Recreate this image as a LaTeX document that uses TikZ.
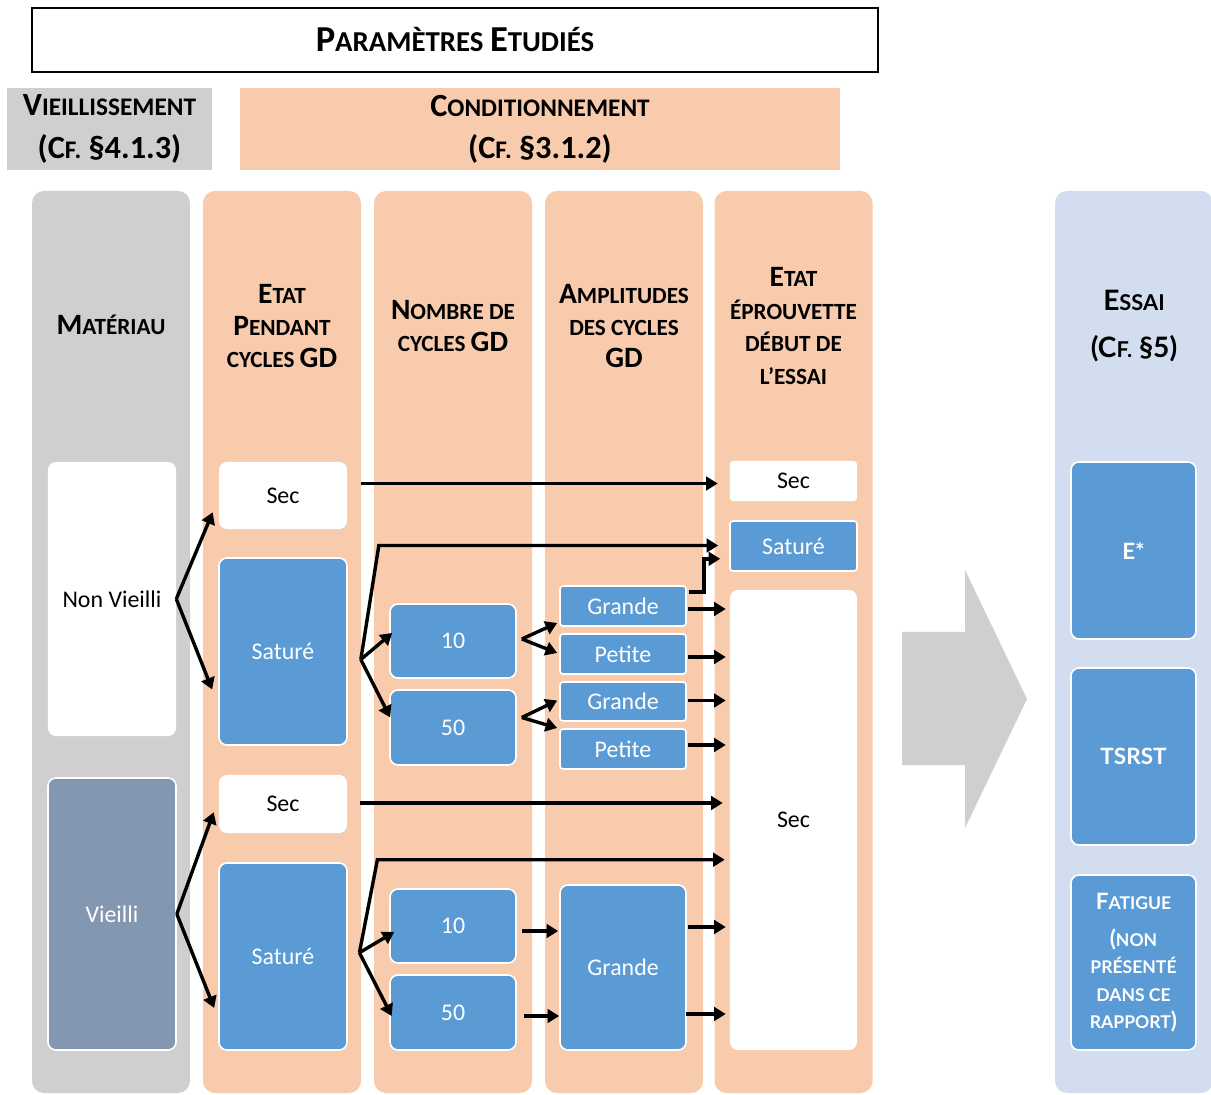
\documentclass[tikz,border=0pt]{standalone}
\usepackage{fontspec}
\setmainfont{Carlito}
\newfontfamily\gillfont{Lato}
\usetikzlibrary{arrows.meta,calc}

\definecolor{peche}{RGB}{248,203,173}
\definecolor{grisclair}{RGB}{208,206,206}
\definecolor{bleu}{RGB}{91,155,213}
\definecolor{ardoise}{RGB}{132,151,176}
\definecolor{bleupale}{RGB}{210,222,239}

% fausses petites capitales : initiale grande, reste en capitales reduites
\newcommand\petcap[2]{{\fontsize{21}{23}\selectfont #1}{\fontsize{16.5}{23}\selectfont #2}}
\newcommand\grandcap[2]{{\fontsize{23}{30}\selectfont #1}{\fontsize{18}{30}\selectfont #2}}
\newcommand\essaicap[2]{{\fontsize{20}{33}\selectfont #1}{\fontsize{15.5}{33}\selectfont #2}}

\tikzset{
  boiteb/.style={draw=white, line width=0.04cm, fill=bleu, text=white, rounded corners=0.2cm,
    inner sep=0pt, font=\fontsize{17}{20}\selectfont},
  boitew/.style={fill=white, rounded corners=0.2cm, inner sep=0pt, font=\fontsize{17}{20}\selectfont},
  entete/.style={align=center, font=\bfseries\fontsize{16.5}{23}\selectfont},
  fleche/.style={-{Triangle[length=0.29cm,width=0.34cm]}, line width=0.085cm}
}

\begin{document}
\begin{tikzpicture}[x=0.025cm,y=-0.025cm]
\useasboundingbox (0,0) rectangle (1211,1095);

%%%%% bandeaux du haut %%%%%
\node[draw=black, line width=0.04cm, minimum width=21.15cm, minimum height=1.6cm,
  font=\bfseries] (titre) at (455,40)
  {{\fontsize{26}{30}\selectfont P}{\fontsize{20.5}{30}\selectfont ARAMÈTRES }{\fontsize{26}{30}\selectfont E}{\fontsize{20.5}{30}\selectfont TUDIÉS}};

\node[fill=grisclair, minimum width=5.125cm, minimum height=2.05cm, align=center,
  font=\bfseries\fontsize{23}{30}\selectfont] (vieil) at (109.5,129)
  {\grandcap{V}{IEILLISSEMENT}\\(\grandcap{C}{F.} §4.1.3)};
\node[fill=peche, minimum width=15cm, minimum height=2.05cm, align=center,
  font=\bfseries\fontsize{23}{30}\selectfont] (condi) at (540,129)
  {\grandcap{C}{ONDITIONNEMENT}\\(\grandcap{C}{F.} §3.1.2)};

%%%%% colonnes %%%%%
\foreach \cx/\coul in {111/grisclair,282/peche,453/peche,624/peche,793.5/peche,1134/bleupale}
  \fill[\coul, rounded corners=0.3cm] (\cx-79,191) rectangle (\cx+79,1093);

\node[entete] (hmat) at (111,325) {\petcap{M}{ATÉRIAU}};
\node[entete] (hetat) at (282,326) {\petcap{E}{TAT}\\\petcap{P}{ENDANT}\\CYCLES {\fontsize{21}{23}\selectfont GD}};
\node[entete] (hnomb) at (453,326) {\petcap{N}{OMBRE DE}\\CYCLES {\fontsize{21}{23}\selectfont GD}};
\node[entete] (hampl) at (624,326) {\petcap{A}{MPLITUDES}\\DES CYCLES\\{\fontsize{21}{23}\selectfont GD}};
\node[entete] (hdebut) at (793.5,326) {\petcap{E}{TAT}\\ÉPROUVETTE\\DÉBUT DE\\L’ESSAI};
\node[align=center, font=\gillfont\bfseries\fontsize{20}{33}\selectfont] (hessai) at (1134,326)
  {\essaicap{E}{SSAI}\\(\essaicap{C}{F.} §5)};

%%%%% materiau %%%%%
\node[boitew, minimum width=3.2cm, minimum height=6.85cm] (nonvieilli) at (112,599) {Non Vieilli};
\node[boiteb, fill=ardoise, minimum width=3.2cm, minimum height=6.8cm] (vieilli) at (112,914) {Vieilli};

%%%%% etat pendant cycles %%%%%
\node[boitew, minimum width=3.2cm, minimum height=1.675cm] (secA) at (283,495.5) {Sec};
\node[boiteb, minimum width=3.2cm, minimum height=4.675cm] (satA) at (283,651.5) {Saturé};
\node[boitew, minimum width=3.2cm, minimum height=1.45cm] (secB) at (283,804) {Sec};
\node[boiteb, minimum width=3.2cm, minimum height=4.675cm] (satB) at (283,956.5) {Saturé};

%%%%% nombre de cycles %%%%%
\node[boiteb, minimum width=3.15cm, minimum height=1.85cm] (dixA) at (453,641) {10};
\node[boiteb, minimum width=3.15cm, minimum height=1.875cm] (cinqA) at (453,727.5) {50};
\node[boiteb, minimum width=3.15cm, minimum height=1.85cm] (dixB) at (453,926) {10};
\node[boiteb, minimum width=3.15cm, minimum height=1.875cm] (cinqB) at (453,1012.5) {50};

%%%%% amplitudes %%%%%
\node[boiteb, rounded corners=0.08cm, minimum width=3.15cm, minimum height=1cm] (grA) at (623,606) {Grande};
\node[boiteb, rounded corners=0.08cm, minimum width=3.15cm, minimum height=1cm] (peA) at (623,654) {Petite};
\node[boiteb, rounded corners=0.08cm, minimum width=3.15cm, minimum height=0.975cm] (grB) at (623,701.5) {Grande};
\node[boiteb, rounded corners=0.08cm, minimum width=3.15cm, minimum height=1cm] (peB) at (623,749) {Petite};
\node[boiteb, minimum width=3.15cm, minimum height=4.125cm] (grC) at (623,967.5) {Grande};

%%%%% etat debut essai %%%%%
\node[boitew, rounded corners=0.08cm, minimum width=3.175cm, minimum height=1cm] (secE) at (793.5,481) {Sec};
\node[boiteb, rounded corners=0.08cm, minimum width=3.175cm, minimum height=1.25cm] (satE) at (793.5,546) {Saturé};
\node[boitew, minimum width=3.175cm, minimum height=11.5cm] (secF) at (793.5,820) {Sec};

%%%%% fleche grise %%%%%
\fill[grisclair] (902,632) -- (965,632) -- (965,570) -- (1027,699) -- (965,828) -- (965,765) -- (902,765) -- cycle;

%%%%% essais %%%%%
\node[boiteb, minimum width=3.125cm, minimum height=4.425cm, font=\gillfont\bfseries\fontsize{16}{20}\selectfont] (estar) at (1133.5,550.5) {E*};
\node[boiteb, minimum width=3.125cm, minimum height=4.425cm, font=\gillfont\bfseries\fontsize{16}{20}\selectfont] (tsrst) at (1133.5,756.5) {TSRST};
\node[boiteb, minimum width=3.125cm, minimum height=4.375cm, align=center,
  font=\gillfont\bfseries\fontsize{12.5}{19.5}\selectfont] (fatigue) at (1133.5,962.5)
  {{\fontsize{16}{19.5}\selectfont F}ATIGUE\\[7pt]{\fontsize{16}{19.5}\selectfont (}NON\\PRÉSENTÉ\\DANS CE\\RAPPORT{\fontsize{16}{19.5}\selectfont )}};

%%%%% fleches : non vieilli %%%%%
\draw[fleche] (nonvieilli.east) -- ($(secA.south west)+(-6,-17)$);
\draw[fleche] (nonvieilli.east) -- ($(satA.west)+(-6,38)$);
\draw[fleche, shorten >=0.3cm] ($(secA.east)+(14,-12)$) coordinate (d) -- (d -| secE.west);

\coordinate (jA) at ($(satA.east)+(13,8)$);
\draw[fleche, shorten >=0.275cm] (jA) -- ++(18,-114) coordinate (d) -- (d -| satE.west);
\draw[fleche] (jA) -- ($(dixA.west)+(3,-8)$);
\draw[fleche] (jA) -- ($(cinqA.west)+(1,-10)$);

\draw[fleche] ($(dixA.east)+(5,-2)$) -- ($(grA.west)+(-2,17)$);
\draw[fleche] ($(dixA.east)+(5,-2)$) -- ($(peA.west)+(-2,-1)$);
\draw[fleche] ($(cinqA.east)+(5,-10)$) -- ($(grB.west)+(-2,-1)$);
\draw[fleche] ($(cinqA.east)+(5,-10)$) -- ($(peB.west)+(-2,-21)$);

\draw[fleche] ($(grA.north east)+(2,7)$) -| ($(satE.south west)+(-25,-13)$) -- ($(satE.south west)+(-9,-13)$);
\draw[fleche, shorten >=0.1cm] ($(grA.east)+(1,3)$) coordinate (d) -- (d -| secF.west);
\draw[fleche, shorten >=0.1cm] ($(peA.east)+(1,3)$) coordinate (d) -- (d -| secF.west);
\draw[fleche, shorten >=0.1cm] ($(grB.east)+(1,-1)$) coordinate (d) -- (d -| secF.west);
\draw[fleche, shorten >=0.1cm] ($(peB.east)+(1,-4)$) coordinate (d) -- (d -| secF.west);

%%%%% fleches : vieilli %%%%%
\draw[fleche] (vieilli.east) -- ($(secB.south west)+(-5,-21)$);
\draw[fleche] (vieilli.east) -- ($(satB.west)+(-4,51.5)$);
\draw[fleche, shorten >=0.175cm] ($(secB.east)+(13,-1)$) coordinate (d) -- (d -| secF.west);

\coordinate (jB) at ($(satB.east)+(11.6,-3.8)$);
\draw[fleche, shorten >=0.125cm] (jB) -- ++(18,-93) coordinate (d) -- (d -| secF.west);
\draw[fleche] (jB) -- ($(dixB.west)+(5,6)$);
\draw[fleche] (jB) -- ($(cinqB.west)+(2.5,3.5)$);

\draw[fleche, shorten >=0.025cm] ($(dixB.east)+(5,5)$) coordinate (d) -- (d -| grC.west);
\draw[fleche] ($(cinqB.east)+(7,3.5)$) coordinate (d) -- (d -| grC.west);
\draw[fleche, shorten >=0.1cm] ($(grC.east)+(1,-40.5)$) coordinate (d) -- (d -| secF.west);
\draw[fleche, shorten >=0.1cm] ($(grC.east)+(-1,46.5)$) coordinate (d) -- (d -| secF.west);

\end{tikzpicture}
\end{document}
